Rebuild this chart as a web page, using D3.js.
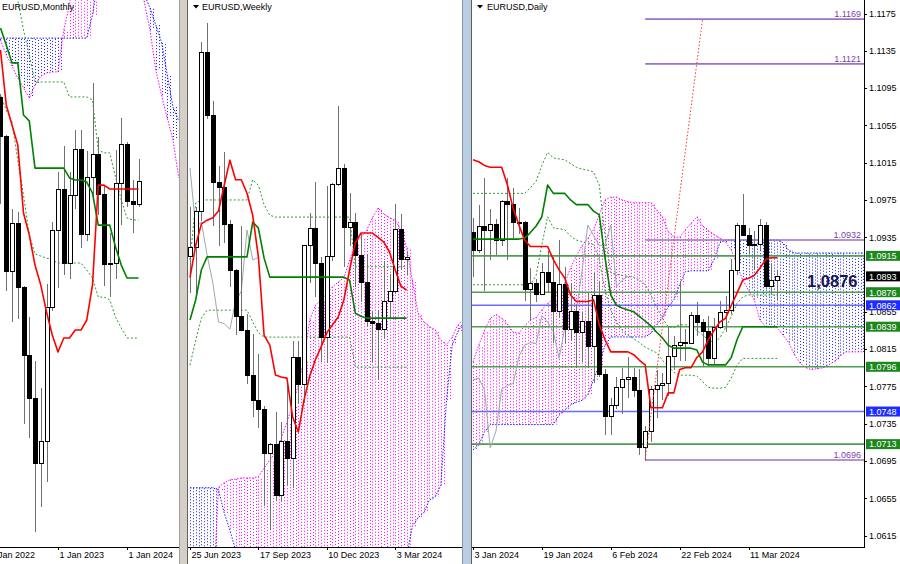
<!DOCTYPE html>
<html><head><meta charset="utf-8">
<script src="https://cdn.jsdelivr.net/npm/d3@7"></script>
<style>
html,body{margin:0;padding:0;background:#fff;}
svg{display:block;}
text{font-family:"Liberation Sans",Arial,sans-serif;}
</style></head><body>
<svg id="c" width="900" height="564"></svg>
<script>
// ================= DATA =================
// ---- Monthly (bar index 0 = Jan 2022; arrays start at bar 2 = Mar 2022)
const mStart = 2;
const mLabels = ["1 Jan 2022","1 Jan 2023","1 Jan 2024"];
const mLabelIdx = [0,12,24];
const mOpen  = [1.1218,1.1067,1.0545,1.0733,1.0484,1.0220,1.0054,0.9802,0.9884,1.0406,1.0705,1.0863,1.0576,1.0839,1.1019,1.0690,1.0909,1.0998,1.0843,1.0573,1.0575,1.0887,1.1039,1.0818,1.0804];
const mHigh  = [1.1233,1.1076,1.0787,1.0774,1.0488,1.0368,1.0198,1.0094,1.0497,1.0736,1.0929,1.1033,1.0930,1.1095,1.1092,1.1012,1.1276,1.1065,1.0882,1.0695,1.1017,1.1140,1.1046,1.0898,1.0981];
const mLow   = [1.0806,1.0471,1.0349,1.0359,0.9952,0.9901,0.9535,0.9632,0.9730,1.0393,1.0483,1.0533,1.0516,1.0788,1.0635,1.0662,1.0834,1.0766,1.0488,1.0448,1.0517,1.0724,1.0795,1.0695,1.0796];
const mClose = [1.1067,1.0545,1.0733,1.0484,1.0220,1.0054,0.9802,0.9884,1.0406,1.0705,1.0863,1.0576,1.0839,1.1019,1.0690,1.0909,1.0998,1.0843,1.0573,1.0575,1.0887,1.1039,1.0818,1.0804,1.0893];
const mTenkan = [1.1404,1.1191,1.1113,1.1036,1.0772,1.0687,1.0570,1.0493,1.0388,1.0299,1.0233,1.0287,1.0287,1.0318,1.0318,1.0357,1.0493,1.0880,1.0880,1.0865,1.0865,1.0865,1.0865,1.0865,1.0865];
const mKijun  = [1.1489,1.1423,1.1354,1.1354,1.1152,1.1129,1.0946,1.0946,1.0946,1.0946,1.0946,1.0946,1.0908,1.0900,1.0900,1.0892,1.0849,1.0725,1.0725,1.0725,1.0640,1.0570,1.0520,1.0520,1.0520];
const mSpanA  = [1.1443,1.1385,1.1342,1.1295,1.1257,1.1218,1.1268,1.1303,1.1315,1.1319,1.1319,1.1482,1.1578,
                 1.1750,1.1750,1.1750,1.1750,1.1750,1.1750,1.1750,1.1750,1.1750,1.1750,1.1750,1.1750,
                 1.1590,1.1482,1.1326,1.1229,1.1140,1.1055,1.0908];
const mSpanB  = [1.1450,1.1450,1.1450,1.1450,1.1450,1.1450,1.1450,1.1450,1.1450,1.1450,1.1450,1.1450,1.1450,1.1450,1.1450,1.1450,
                 1.1540,1.1675,1.1675,1.1675,1.1675,1.1675,1.1675,1.1675,1.1675,
                 1.1620,1.1567,1.1501,1.1435,1.1307,1.1183,1.1129];
const mDotUp  = [1.1831,1.1753,1.1676,1.1598,1.1482,1.1385,1.1280,1.1280,1.1280,1.1280,1.1280,1.1280,1.1222,1.1222,1.1222,1.1222,1.1210,1.1016,1.1005,1.1005,1.0912,1.0822,1.0753,1.0745,1.0745];
const mDotLo  = [1.1229,1.1171,1.1125,1.0977,1.0842,1.0687,1.0613,1.0605,1.0597,1.0590,1.0578,1.0578,1.0578,1.0578,1.0578,1.0551,1.0520,1.0446,1.0446,1.0435,1.0369,1.0326,1.0287,1.0287,1.0287];

// ---- Weekly (bar index 0 = week of 25 Jun 2023)
const wLabels = ["25 Jun 2023","17 Sep 2023","10 Dec 2023","3 Mar 2024"];
const wLabelIdx = [0,12,24,36];
const wOpen  = [1.0894,1.0910,1.0968,1.1228,1.1125,1.1016,1.1008,1.0947,1.0872,1.0796,1.0774,1.0700,1.0660,1.0644,1.0573,1.0588,1.0505,1.0593,1.0564,1.0729,1.0685,1.0913,1.0940,1.0884,1.0762,1.0895,1.1013,1.1039,1.0942,1.0951,1.0897,1.0852,1.0788,1.0785,1.0776,1.0821,1.0838,1.0938,1.0889];
const wHigh  = [1.0976,1.0976,1.1245,1.1276,1.1149,1.1043,1.1065,1.0954,1.0875,1.0945,1.0800,1.0768,1.0736,1.0651,1.0590,1.0640,1.0624,1.0695,1.0756,1.0756,1.0914,1.0965,1.1017,1.0894,1.1009,1.1014,1.1140,1.1046,1.0998,1.0966,1.0932,1.0897,1.0806,1.0806,1.0888,1.0866,1.0981,1.0964,1.0900];
const wLow   = [1.0835,1.0833,1.0952,1.1120,1.0944,1.0912,1.0916,1.0845,1.0766,1.0774,1.0686,1.0632,1.0615,1.0488,1.0448,1.0495,1.0496,1.0522,1.0517,1.0656,1.0656,1.0852,1.0828,1.0723,1.0723,1.0887,1.1009,1.0877,1.0911,1.0845,1.0821,1.0779,1.0722,1.0695,1.0760,1.0796,1.0833,1.0874,1.0865];
const wClose = [1.0910,1.0968,1.1228,1.1125,1.1016,1.1008,1.0947,1.0872,1.0796,1.0774,1.0700,1.0660,1.0644,1.0573,1.0588,1.0505,1.0593,1.0564,1.0729,1.0685,1.0913,1.0940,1.0884,1.0762,1.0895,1.1013,1.1039,1.0942,1.0951,1.0897,1.0852,1.0788,1.0785,1.0776,1.0821,1.0838,1.0938,1.0889,1.0893];
const wTenkan = [1.0860,1.0913,1.0948,1.0954,1.0958,1.0969,1.1011,1.1052,1.1020,1.1020,1.0998,1.0962,1.0894,1.0766,1.0750,1.0701,1.0698,1.0696,1.0633,1.0608,1.0660,1.0699,1.0726,1.0747,1.0770,1.0783,1.0796,1.0824,1.0873,1.0917,1.0933,1.0933,1.0933,1.0926,1.0918,1.0902,1.0873,1.0846,1.0840];
const wKijun  = [1.0791,1.0824,1.0873,1.0894,1.0894,1.0894,1.0894,1.0894,1.0894,1.0894,1.0894,1.0951,1.0941,1.0892,1.0861,1.0861,1.0861,1.0861,1.0861,1.0861,1.0861,1.0861,1.0861,1.0861,1.0861,1.0861,1.0861,1.0861,1.0856,1.0802,1.0797,1.0794,1.0794,1.0794,1.0794,1.0794,1.0794,1.0794,1.0794];
const wChikou = [1.1039,1.0942,1.0951,1.0897,1.0852,1.0788,1.0785,1.0776,1.0821,1.0838,1.0938,1.0889,1.0893];
const wSpanA  = [1.0330,1.0330,1.0330,1.0330,1.0330,1.0518,1.0525,1.0530,1.0531,1.0533,1.0533,1.0533,1.0535,
                 1.0549,1.0562,1.0575,1.0598,1.0624,1.0652,1.0685,1.0726,1.0791,1.0815,1.0824,1.0835,1.0845,1.0853,1.0860,1.0889,1.0917,1.0926,1.0938,1.0958,1.0974,1.0964,1.0958,1.0954,1.0938,1.0909,1.0856,1.0802,1.0788,1.0780,1.0775,1.0758,1.0750,1.0763,1.0783,1.0791];
const wSpanB  = [1.0517,1.0517,1.0517,1.0517,1.0517,1.0513,1.0476,1.0448,1.0415,1.0360,
                 1.0315,1.0315,1.0315,1.0315,1.0315,1.0315,1.0315,1.0315,1.0315,1.0315,1.0315,1.0315,1.0315,1.0315,1.0315,1.0315,1.0315,1.0315,1.0315,1.0315,1.0315,1.0315,1.0315,1.0315,1.0315,1.0315,1.0315,1.0315,
                 1.0405,1.0454,1.0468,1.0476,1.0497,1.0502,1.0521,1.0660,1.0750,1.0772,1.0788];
const wDotUp  = [1.0889,1.0982,1.0987,1.0987,1.0987,1.0987,1.0987,1.0987,1.0987,1.0987,1.0987,1.1020,1.1011,1.0979,1.0962,1.0959,1.0959,1.0959,1.0959,1.0959,1.0959,1.0959,1.0959,1.0959,1.0959,1.0959,1.0959,1.0959,1.0959,1.0878,1.0878,1.0878,1.0878,1.0878,1.0878,1.0878,1.0878,1.0878,1.0878];
const wDotLo  = [1.0717,1.0758,1.0794,1.0807,1.0807,1.0807,1.0807,1.0807,1.0807,1.0807,1.0807,1.0788,1.0770,1.0763,1.0763,1.0763,1.0763,1.0763,1.0763,1.0763,1.0763,1.0763,1.0763,1.0763,1.0763,1.0763,1.0763,1.0763,1.0763,1.0714,1.0714,1.0714,1.0714,1.0714,1.0714,1.0714,1.0714,1.0714,1.0714];

// ---- Daily (bar index 0 = 3 Jan 2024)
const dLabels = ["3 Jan 2024","19 Jan 2024","6 Feb 2024","22 Feb 2024","11 Mar 2024"];
const dLabelIdx = [0,12,24,36,48];
const dOpen  = [1.0940,1.0921,1.0946,1.0942,1.0949,1.0931,1.0973,1.0970,1.0951,1.0951,1.0879,1.0885,1.0874,1.0897,1.0886,1.0855,1.0884,1.0836,1.0855,1.0833,1.0845,1.0818,1.0873,1.0788,1.0743,1.0755,1.0774,1.0782,1.0784,1.0771,1.0709,1.0727,1.0772,1.0776,1.0778,1.0807,1.0819,1.0822,1.0821,1.0851,1.0844,1.0834,1.0805,1.0838,1.0854,1.0856,1.0899,1.0948,1.0937,1.0926,1.0927,1.0948,1.0882,1.0889];
const dHigh  = [1.0956,1.0970,1.0998,1.0965,1.0955,1.0975,1.0999,1.0988,1.0966,1.0952,1.0902,1.0890,1.0907,1.0920,1.0914,1.0932,1.0903,1.0885,1.0862,1.0855,1.0875,1.0897,1.0887,1.0794,1.0763,1.0785,1.0795,1.0806,1.0795,1.0794,1.0732,1.0775,1.0793,1.0789,1.0839,1.0829,1.0888,1.0837,1.0855,1.0866,1.0847,1.0851,1.0848,1.0867,1.0872,1.0912,1.0950,1.0981,1.0945,1.0942,1.0955,1.0951,1.0907,1.0900];
const dLow   = [1.0892,1.0918,1.0877,1.0911,1.0916,1.0926,1.0911,1.0934,1.0938,1.0867,1.0845,1.0865,1.0873,1.0875,1.0822,1.0848,1.0821,1.0825,1.0795,1.0801,1.0795,1.0779,1.0785,1.0723,1.0723,1.0751,1.0745,1.0762,1.0764,1.0701,1.0695,1.0715,1.0741,1.0760,1.0765,1.0793,1.0802,1.0802,1.0820,1.0829,1.0796,1.0797,1.0799,1.0837,1.0833,1.0853,1.0894,1.0938,1.0918,1.0900,1.0921,1.0879,1.0874,1.0868];
const dClose = [1.0921,1.0946,1.0942,1.0949,1.0931,1.0973,1.0970,1.0951,1.0951,1.0879,1.0885,1.0874,1.0897,1.0886,1.0855,1.0884,1.0836,1.0855,1.0833,1.0845,1.0818,1.0873,1.0788,1.0743,1.0755,1.0774,1.0782,1.0784,1.0771,1.0709,1.0727,1.0772,1.0776,1.0778,1.0807,1.0819,1.0822,1.0821,1.0851,1.0844,1.0834,1.0805,1.0838,1.0854,1.0856,1.0899,1.0948,1.0937,1.0926,1.0927,1.0948,1.0882,1.0889,1.0893];
const dTenkan = [1.1018,1.1016,1.1012,1.1010,1.1010,1.1010,1.0991,1.0966,1.0948,1.0932,1.0925,1.0925,1.0925,1.0925,1.0911,1.0900,1.0891,1.0873,1.0866,1.0866,1.0866,1.0868,1.0841,1.0825,1.0812,1.0812,1.0812,1.0812,1.0809,1.0803,1.0798,1.0752,1.0752,1.0752,1.0768,1.0768,1.0793,1.0795,1.0795,1.0806,1.0812,1.0825,1.0835,1.0844,1.0848,1.0862,1.0875,1.0889,1.0891,1.0894,1.0902,1.0911,1.0913,1.0913];
const dKijun  = [1.0933,1.0933,1.0933,1.0933,1.0933,1.0933,1.0933,1.0933,1.0933,1.0934,1.0940,1.0947,1.0957,1.0991,1.0982,1.0982,1.0982,1.0975,1.0970,1.0970,1.0970,1.0963,1.0959,1.0913,1.0873,1.0862,1.0859,1.0857,1.0855,1.0850,1.0845,1.0840,1.0833,1.0827,1.0819,1.0816,1.0816,1.0816,1.0816,1.0814,1.0801,1.0798,1.0798,1.0798,1.0798,1.0806,1.0825,1.0839,1.0839,1.0839,1.0839,1.0839,1.0839,1.0839];
const dChikou = [1.0782,1.0784,1.0771,1.0709,1.0727,1.0772,1.0776,1.0778,1.0807,1.0819,1.0822,1.0821,1.0851,1.0844,1.0834,1.0805,1.0838,1.0854,1.0856,1.0899,1.0948,1.0937,1.0926,1.0927,1.0948,1.0882,1.0889,1.0893];
const dSpanA  = [1.0801,1.0819,1.0835,1.0848,1.0852,1.0848,1.0842,1.0833,1.0832,1.0840,1.0846,1.0849,1.0857,1.0864,1.0869,1.0875,1.0886,1.0902,1.0915,1.0926,1.0934,1.0943,1.0959,1.0975,1.0978,1.0978,1.0975,1.0973,1.0972,1.0972,1.0972,1.0972,1.0964,1.0957,1.0941,1.0935,1.0935,1.0943,1.0950,1.0957,1.0947,1.0942,1.0938,1.0934,1.0930,1.0921,1.0905,1.0889,1.0878,1.0868,1.0846,1.0839,1.0838,1.0838,1.0830,1.0822,1.0809,1.0800,1.0795,1.0793,1.0794,1.0795,1.0798,1.0802,1.0808,1.0812,1.0812,1.0812,1.0812];
const dSpanB  = [1.0707,1.0712,1.0726,1.0734,1.0734,1.0734,1.0734,1.0734,1.0734,1.0734,1.0734,1.0734,1.0734,1.0734,1.0734,1.0744,1.0750,1.0755,1.0758,1.0760,1.0766,1.0782,1.0798,1.0819,1.0828,1.0828,1.0828,1.0828,1.0828,1.0828,1.0828,1.0832,1.0841,1.0849,1.0860,1.0868,1.0884,1.0898,1.0899,1.0899,1.0899,1.0899,1.0911,1.0929,1.0932,1.0932,1.0932,1.0932,1.0932,1.0932,1.0932,1.0932,1.0932,1.0932,1.0929,1.0921,1.0918,1.0918,1.0918,1.0918,1.0918,1.0918,1.0918,1.0918,1.0918,1.0918,1.0918,1.0918,1.0918];
const dDotUp  = [1.0982,1.0982,1.0982,1.0982,1.0982,1.0982,1.0982,1.0982,1.0982,1.0982,1.0988,1.0995,1.1012,1.1026,1.1020,1.1019,1.1018,1.1014,1.1010,1.1008,1.1007,1.1005,1.0991,1.0937,1.0897,1.0895,1.0894,1.0893,1.0892,1.0889,1.0884,1.0873,1.0860,1.0848,1.0839,1.0838,1.0841,1.0841,1.0841,1.0835,1.0830,1.0825,1.0822,1.0827,1.0838,1.0850,1.0864,1.0871,1.0873,1.0873,1.0873,1.0873,1.0873,1.0873];
const dDotLo  = [1.0884,1.0884,1.0884,1.0884,1.0884,1.0884,1.0884,1.0884,1.0884,1.0884,1.0884,1.0894,1.0927,1.0957,1.0945,1.0944,1.0943,1.0936,1.0932,1.0930,1.0929,1.0927,1.0911,1.0878,1.0857,1.0844,1.0835,1.0830,1.0826,1.0822,1.0817,1.0814,1.0811,1.0803,1.0797,1.0790,1.0787,1.0787,1.0787,1.0786,1.0780,1.0774,1.0773,1.0773,1.0774,1.0784,1.0798,1.0805,1.0805,1.0805,1.0805,1.0805,1.0805,1.0805];

// daily levels / annotations
const dPriceTicks = [1.1175,1.1135,1.1095,1.1055,1.1015,1.0975,1.0935,1.0855,1.0815,1.0775,1.0735,1.0695,1.0655,1.0615];
const targetLevels = [1.1169,1.1121,1.0932,1.0696];
const targetFromBar = 30;
const greenLevels = [1.0915,1.0876,1.0839,1.0796,1.0713];
const blueLevels  = [1.0862,1.0748];
const lastPrice = 1.0893;
const trendBars = [30,40];
const trendPrices = [1.0697,1.1169];
const noteText = "1,0876";

// ================= DRAW =================
const svg = d3.select('#c');
svg.append('rect').attr('width',900).attr('height',564).attr('fill','#fff');
const defs = svg.append('defs');
function clipRect(id,x0,x1,y0,y1){
  defs.append('clipPath').attr('id',id).append('rect')
    .attr('x',x0).attr('y',y0).attr('width',x1-x0).attr('height',y1-y0);
  return 'url(#'+id+')';
}
const C = {pink:'#ff00ff', blue:'#1a1aff', tenkan:'#ff0000', kijun:'#008000',
           chikou:'#9ea7b0', dot:'#2f9a2f', wick:'#707070'};

function seriesLine(xs,ys,off){
  return d3.line().x((d,j)=>xs(off+j)).y(d=>ys(d));
}
function drawCloud(g,xs,ys,off,A,B){
  const h = g.append('g');
  const step = xs(1)-xs(0);
  A.forEach((a,j)=>{
    const b = B[j];
    const x = Math.round(xs(off+j))+0.5;
    [0, Math.round(step/2)].forEach(dx=>{
      h.append('line').attr('x1',x+dx).attr('x2',x+dx)
        .attr('y1',ys(a)).attr('y2',ys(b))
        .attr('stroke', a>=b ? C.pink : C.blue)
        .attr('stroke-width',1).attr('stroke-dasharray','1,2')
        .attr('stroke-dashoffset', dx ? 1 : 0);
    });
  });
  g.append('path').attr('d',seriesLine(xs,ys,off)(A)).attr('fill','none')
    .attr('stroke',C.pink).attr('stroke-width',1).attr('stroke-dasharray','1.5,1.5');
  g.append('path').attr('d',seriesLine(xs,ys,off)(B)).attr('fill','none')
    .attr('stroke',C.blue).attr('stroke-width',1).attr('stroke-dasharray','1.5,1.5');
}
function drawLine(g,xs,ys,off,arr,color,w,dash){
  const p = g.append('path').attr('d',seriesLine(xs,ys,off)(arr)).attr('fill','none')
    .attr('stroke',color).attr('stroke-width',w).attr('stroke-linejoin','round');
  if(dash) p.attr('stroke-dasharray',dash);
}
function drawCandles(g,xs,ys,off,O,H,L,Cl){
  const cg = g.append('g').attr('shape-rendering','crispEdges');
  O.forEach((o,j)=>{
    const cx = Math.round(xs(off+j));
    const c = Cl[j];
    cg.append('line').attr('x1',cx+0.5).attr('x2',cx+0.5)
      .attr('y1',ys(H[j])).attr('y2',ys(L[j])).attr('stroke',C.wick);
    const y1 = ys(Math.max(o,c)), y2 = ys(Math.min(o,c));
    const hgt = Math.max(1, y2-y1);
    const bear = c < o;
    cg.append('rect').attr('x',cx-1.5).attr('y',y1).attr('width',4).attr('height',hgt)
      .attr('fill', bear ? '#000' : '#fff').attr('stroke','#000').attr('stroke-width',1);
  });
}
function title(x,y,txt,tri){
  if(tri) svg.append('path').attr('d',`M${tri},5 L${tri+6},5 L${tri+3},8.5 Z`).attr('fill','#000');
  svg.append('text').attr('x',x).attr('y',y).attr('font-size',9).attr('fill','#000').text(txt);
}
function dateAxis(xs,idx,labels,x0,x1){
  const ax = svg.append('g').attr('transform','translate(0,547)')
    .call(d3.axisBottom(xs).tickValues(idx).tickFormat((d,i)=>labels[i]).tickSize(3).tickSizeOuter(0));
  ax.select('.domain').remove();
  ax.selectAll('.tick line').attr('stroke','#000').attr('shape-rendering','crispEdges');
  ax.selectAll('.tick text').attr('text-anchor','start').attr('x',1).attr('y',5)
    .attr('font-size',9).attr('font-family','"Liberation Sans",Arial,sans-serif').attr('fill','#000');
  svg.append('line').attr('x1',x0).attr('x2',x1).attr('y1',547.5).attr('y2',547.5)
    .attr('stroke','#000').attr('stroke-width',1);
}

// ---------- Panel 1: Monthly ----------
{
  const xs = d3.scaleLinear().domain([0,12]).range([-11,58]);
  const ys = d3.scaleLinear().domain([0.9535,1.1276]).range([532,83]);
  const g = svg.append('g').attr('clip-path',clipRect('p1',0,179,0,547));
  drawCloud(g,xs,ys,mStart,mSpanA,mSpanB);
  drawLine(g,xs,ys,mStart,mDotUp,C.dot,1,'2,2');
  drawLine(g,xs,ys,mStart,mDotLo,C.dot,1,'2,2');
  drawCandles(g,xs,ys,mStart,mOpen,mHigh,mLow,mClose);
  drawLine(g,xs,ys,mStart,mKijun,C.kijun,1.6);
  drawLine(g,xs,ys,mStart,mTenkan,C.tenkan,1.6);
  dateAxis(xs,mLabelIdx,mLabels,0,179);
  title(2,10,'EURUSD,Monthly',null);
}
// ---------- Panel 2: Weekly ----------
{
  const xs = d3.scaleLinear().domain([0,36]).range([190,395.2]);
  const ys = d3.scaleLinear().domain([1.0448,1.1276]).range([530,23]);
  const g = svg.append('g').attr('clip-path',clipRect('p2',188,462,0,547));
  drawCloud(g,xs,ys,0,wSpanA,wSpanB);
  drawLine(g,xs,ys,0,wDotUp,C.dot,1,'2,2');
  drawLine(g,xs,ys,0,wDotLo,C.dot,1,'2,2');
  drawLine(g,xs,ys,0,wChikou,C.chikou,1);
  drawCandles(g,xs,ys,0,wOpen,wHigh,wLow,wClose);
  drawLine(g,xs,ys,0,wKijun,C.kijun,1.6);
  drawLine(g,xs,ys,0,wTenkan,C.tenkan,1.6);
  dateAxis(xs,wLabelIdx,wLabels,188,462);
  title(202,10,'EURUSD,Weekly',193);
}
// ---------- Panel 3: Daily ----------
{
  const xs = d3.scaleLinear().domain([0,48]).range([473,748.5]);
  const ys = d3.scaleLinear().domain([1.0615,1.1175]).range([535.5,13.5]);
  const g = svg.append('g').attr('clip-path',clipRect('p3',472,864,0,547));
  drawCloud(g,xs,ys,0,dSpanA,dSpanB);
  greenLevels.forEach(p=>g.append('line').attr('x1',472).attr('x2',864).attr('y1',ys(p)).attr('y2',ys(p))
      .attr('stroke','#4f9f4f').attr('stroke-width',1.6));
  blueLevels.forEach(p=>g.append('line').attr('x1',472).attr('x2',864).attr('y1',ys(p)).attr('y2',ys(p))
      .attr('stroke','#6a6aff').attr('stroke-width',1.6));
  targetLevels.forEach(p=>{
    g.append('line').attr('x1',xs(targetFromBar)).attr('x2',864).attr('y1',ys(p)).attr('y2',ys(p))
      .attr('stroke','#9a72c8').attr('stroke-width',1.6);
    g.append('text').attr('x',861).attr('y',ys(p)-2).attr('text-anchor','end')
      .attr('font-size',9).attr('fill','#7b3fb0').text(p.toFixed(4));
  });
  drawLine(g,xs,ys,0,dDotUp,C.dot,1,'2,2');
  drawLine(g,xs,ys,0,dDotLo,C.dot,1,'2,2');
  drawLine(g,xs,ys,0,dChikou,C.chikou,1);
  drawCandles(g,xs,ys,0,dOpen,dHigh,dLow,dClose);
  drawLine(g,xs,ys,0,dKijun,C.kijun,1.6);
  drawLine(g,xs,ys,0,dTenkan,C.tenkan,1.6);
  g.append('line').attr('x1',xs(trendBars[0])).attr('y1',ys(trendPrices[0]))
    .attr('x2',xs(trendBars[1])).attr('y2',ys(trendPrices[1]))
    .attr('stroke','#ff3030').attr('stroke-width',1).attr('stroke-dasharray','1.5,2');
  g.append('text').attr('x',xs(62.6)).attr('y',ys(1.0876)-5).attr('text-anchor','middle')
    .attr('font-family','"Liberation Serif","Times New Roman",serif').attr('font-weight','bold')
    .attr('font-size',16.5).attr('fill','#17174d').text(noteText);
  const pa = svg.append('g').attr('transform','translate(864,0)')
    .call(d3.axisRight(ys).tickValues(dPriceTicks).tickFormat(d3.format('.4f')).tickSize(3));
  pa.select('.domain').remove();
  pa.selectAll('.tick line').attr('stroke','#000').attr('shape-rendering','crispEdges');
  pa.selectAll('.tick text').attr('x',5).attr('font-size',9)
    .attr('font-family','"Liberation Sans",Arial,sans-serif').attr('fill','#000');
  svg.append('line').attr('x1',864.5).attr('x2',864.5).attr('y1',0).attr('y2',548).attr('stroke','#000');
  const box = (p,col)=>{
    const y = ys(p);
    svg.append('rect').attr('x',866).attr('y',y-5).attr('width',34).attr('height',10).attr('fill',col);
    svg.append('text').attr('x',869).attr('y',y+3.3).attr('font-size',9).attr('fill','#fff').text(p.toFixed(4));
  };
  greenLevels.forEach(p=>box(p,'#1d861d'));
  blueLevels.forEach(p=>box(p,'#1f2cff'));
  box(lastPrice,'#000');
  dateAxis(xs,dLabelIdx,dLabels,472,864);
  title(487,10,'EURUSD,Daily',477);
}
// ---------- separators ----------
svg.append('rect').attr('x',179).attr('y',0).attr('width',8).attr('height',564).attr('fill','#d4d0c8');
svg.append('line').attr('x1',179.5).attr('x2',179.5).attr('y1',0).attr('y2',564).attr('stroke','#a0a0a0');
svg.append('line').attr('x1',187.5).attr('x2',187.5).attr('y1',0).attr('y2',564).attr('stroke','#606060');
svg.append('rect').attr('x',462).attr('y',0).attr('width',9).attr('height',564).attr('fill','#b9cde3');
svg.append('line').attr('x1',462.5).attr('x2',462.5).attr('y1',0).attr('y2',564).attr('stroke','#8a9aaa');
svg.append('line').attr('x1',471.5).attr('x2',471.5).attr('y1',0).attr('y2',564).attr('stroke','#606060');
</script></body></html>
